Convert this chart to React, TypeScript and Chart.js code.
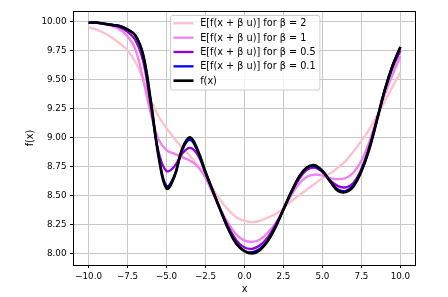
import React, { useEffect, useRef } from 'react';
import { Chart, registerables } from 'chart.js';

Chart.register(...registerables);

const xs = [
  -10, -9.5, -9, -8.5, -8, -7.5, -7, -6.5, -6, -5.5, -5, -4.5, -4, -3.5, -3, -2.5, -2, -1.5, -1, -0.5,
  0, 0.5, 1, 1.5, 2, 2.5, 3, 3.5, 4, 4.5, 5, 5.5, 6, 6.5, 7, 7.5, 8, 8.5, 9, 9.5, 10,
];

const beta2 = [
  9.95, 9.93, 9.9, 9.86, 9.81, 9.75, 9.65, 9.5, 9.32, 9.18, 9.08, 8.99, 8.91, 8.84, 8.76, 8.67, 8.55, 8.45, 8.37, 8.31,
  8.28, 8.27, 8.28, 8.31, 8.34, 8.39, 8.45, 8.5, 8.55, 8.6, 8.65, 8.69, 8.74, 8.8, 8.88, 8.97, 9.07, 9.19, 9.31, 9.44, 9.56,
];

const beta1 = [
  9.99, 9.99, 9.98, 9.96, 9.93, 9.87, 9.76, 9.5, 9.2, 8.98, 8.89, 8.86, 8.83, 8.8, 8.75, 8.65, 8.51, 8.37, 8.25, 8.16,
  8.11, 8.1, 8.12, 8.18, 8.26, 8.38, 8.5, 8.6, 8.66, 8.68, 8.67, 8.65, 8.64, 8.65, 8.7, 8.8, 8.96, 9.17, 9.37, 9.54, 9.7,
];

const beta05 = [
  9.99, 9.99, 9.98, 9.97, 9.95, 9.91, 9.84, 9.66, 9.26, 8.87, 8.71, 8.75, 8.86, 8.91, 8.85, 8.69, 8.52, 8.36, 8.22, 8.11,
  8.05, 8.04, 8.07, 8.14, 8.25, 8.38, 8.52, 8.64, 8.72, 8.74, 8.7, 8.63, 8.58, 8.57, 8.61, 8.73, 8.92, 9.16, 9.41, 9.6, 9.75,
];

const beta01 = [
  9.99, 9.99, 9.98, 9.97, 9.96, 9.93, 9.88, 9.71, 9.3, 8.84, 8.58, 8.67, 8.89, 8.98, 8.88, 8.7, 8.53, 8.36, 8.2, 8.08,
  8.02, 8.01, 8.04, 8.11, 8.23, 8.38, 8.53, 8.66, 8.74, 8.75, 8.71, 8.62, 8.55, 8.54, 8.59, 8.71, 8.9, 9.15, 9.41, 9.62, 9.78,
];

const fx = [
  9.99, 9.99, 9.98, 9.97, 9.96, 9.93, 9.88, 9.71, 9.3, 8.83, 8.56, 8.66, 8.9, 9.0, 8.89, 8.7, 8.53, 8.36, 8.2, 8.08,
  8.02, 8.0, 8.03, 8.11, 8.23, 8.38, 8.53, 8.66, 8.74, 8.76, 8.71, 8.62, 8.54, 8.53, 8.58, 8.71, 8.9, 9.15, 9.41, 9.62, 9.78,
];

const seriesLabels = [
  'E[f(x + β u)] for β = 2',
  'E[f(x + β u)] for β = 1',
  'E[f(x + β u)] for β = 0.5',
  'E[f(x + β u)] for β = 0.1',
  'f(x)',
];

const xTickValues = [-10, -7.5, -5, -2.5, 0, 2.5, 5, 7.5, 10];
const xTickLabels = ['−10.0', '−7.5', '−5.0', '−2.5', '0.0', '2.5', '5.0', '7.5', '10.0'];
const yTickValues = [8, 8.25, 8.5, 8.75, 9, 9.25, 9.5, 9.75, 10];
const yTickLabels = ['8.00', '8.25', '8.50', '8.75', '9.00', '9.25', '9.50', '9.75', '10.00'];

const FONT_FAMILY = "'DejaVu Sans', sans-serif";
const TICK_SIZE = 8.75;
const TEXT_SIZE = 9.7;

const framePlugin = {
  id: 'mplFrame',
  afterDatasetsDraw(chart: any) {
    const { ctx, chartArea } = chart;
    const { left, top, right, bottom } = chartArea;
    ctx.save();
    ctx.strokeStyle = '#000';
    ctx.lineWidth = 1;
    ctx.strokeRect(Math.round(left) + 0.5, Math.round(top) + 0.5, Math.round(right) - Math.round(left) - 1, Math.round(bottom) - Math.round(top));
    ctx.restore();
  },
};

const legendPlugin = {
  id: 'mplLegend',
  afterDraw(chart: any) {
    const { ctx, chartArea } = chart;
    const datasets = chart.data.datasets;
    ctx.save();
    ctx.font = `${TEXT_SIZE}px ${FONT_FAMILY}`;
    let maxW = 0;
    datasets.forEach((d: any) => {
      maxW = Math.max(maxW, ctx.measureText(d.label).width);
    });
    const padL = 3;
    const lineLen = 20;
    const gap = 6.7;
    const padR = 4.3;
    const rowH = 14.35;
    const w = padL + lineLen + gap + maxW + padR;
    const h = 74.5;
    const cx = (chartArea.left + chartArea.right) / 2;
    const x0 = Math.round(cx - w / 2) + 0.5;
    const y0 = chartArea.top + 4.5;
    ctx.beginPath();
    if (ctx.roundRect) ctx.roundRect(x0, y0, w, h, 2);
    else ctx.rect(x0, y0, w, h);
    ctx.fillStyle = 'rgba(255,255,255,0.8)';
    ctx.fill();
    ctx.strokeStyle = '#cccccc';
    ctx.lineWidth = 1;
    ctx.stroke();
    datasets.forEach((d: any, i: number) => {
      const y = y0 + 7.8 + i * rowH;
      ctx.beginPath();
      ctx.moveTo(x0 + padL, y);
      ctx.lineTo(x0 + padL + lineLen, y);
      ctx.strokeStyle = d.borderColor;
      ctx.lineWidth = d.borderWidth;
      ctx.stroke();
      ctx.fillStyle = '#000';
      ctx.textAlign = 'left';
      ctx.textBaseline = 'middle';
      ctx.fillText(d.label, x0 + padL + lineLen + gap, y + 0.5);
    });
    ctx.restore();
  },
};

export default function App() {
  const canvasRef = useRef<HTMLCanvasElement | null>(null);

  useEffect(() => {
    if (!canvasRef.current) return;
    const tickFont = { family: FONT_FAMILY, size: TICK_SIZE };
    const titleFont = { family: FONT_FAMILY, size: TEXT_SIZE };
    const colors = ['#ffc0cb', '#ee82ee', '#9400d3', '#0000ff', '#000000'];
    const widths = [2.3, 2.3, 2.3, 2.3, 2.7];
    const series = [beta2, beta1, beta05, beta01, fx];
    const datasets = series.map((arr, k) => ({
      label: seriesLabels[k],
      data: xs.map((x, i) => ({ x, y: arr[i] })),
      borderColor: colors[k],
      backgroundColor: colors[k],
      borderWidth: widths[k],
      pointRadius: 0,
      fill: false,
      tension: 0.4,
      order: series.length - k,
    }));

    const chart = new Chart(canvasRef.current, {
      type: 'line',
      data: { datasets },
      plugins: [framePlugin, legendPlugin],
      options: {
        responsive: false,
        animation: false,
        devicePixelRatio: 1,
        layout: { padding: { left: 0, top: 11, right: 32, bottom: 0 } },
        plugins: { legend: { display: false }, tooltip: { enabled: false } },
        scales: {
          x: {
            type: 'linear',
            min: -11,
            max: 11,
            afterBuildTicks: (s: any) => {
              s.ticks = xTickValues.map((v) => ({ value: v }));
            },
            afterFit: (s: any) => {
              s.height = 32;
            },
            ticks: {
              autoSkip: false,
              maxRotation: 0,
              padding: 3,
              color: '#000',
              font: tickFont,
              callback: (_v: any, i: number) => xTickLabels[i],
            },
            grid: { color: '#c8c8c8', lineWidth: 1, tickLength: 3, tickColor: '#000', tickWidth: 1 },
            border: { display: false },
            title: { display: true, text: 'x', color: '#000', font: titleFont, padding: { top: 0, bottom: 1.5 } },
          },
          y: {
            type: 'linear',
            min: 7.9,
            max: 10.09,
            afterBuildTicks: (s: any) => {
              s.ticks = yTickValues.map((v) => ({ value: v }));
            },
            afterFit: (s: any) => {
              s.width = 73;
            },
            ticks: {
              autoSkip: false,
              padding: 3.5,
              color: '#000',
              font: tickFont,
              callback: (_v: any, i: number) => yTickLabels[i],
            },
            grid: { color: '#c8c8c8', lineWidth: 1, tickLength: 3, tickColor: '#000', tickWidth: 1 },
            border: { display: false },
            title: { display: true, text: 'f(x)', color: '#000', font: titleFont, padding: { top: 24.5, bottom: 0 } },
          },
        },
      } as any,
    });
    return () => chart.destroy();
  }, []);

  return (
    <div style={{ position: 'absolute', left: 0, top: 0, width: 448, height: 297, background: '#fff' }}>
      <canvas ref={canvasRef} width={448} height={297} style={{ display: 'block' }} />
    </div>
  );
}
